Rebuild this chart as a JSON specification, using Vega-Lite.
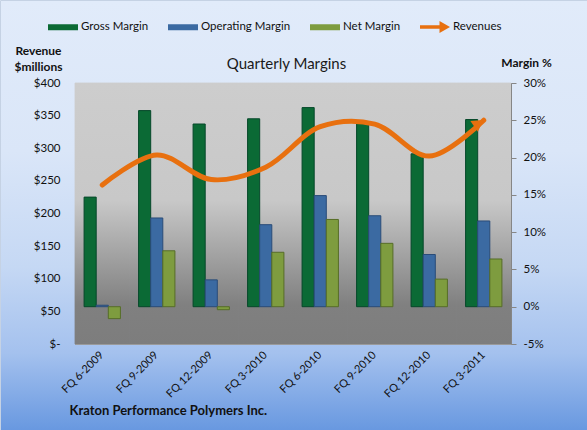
{
  "$schema": "https://vega.github.io/schema/vega-lite/v6.json",
  "width": 587,
  "height": 430,
  "autosize": "none",
  "padding": 0,
  "background": "#ffffff",
  "title": {
    "text": "Quarterly Margins",
    "anchor": "middle",
    "frame": "group",
    "offset": 0,
    "baseline": "middle",
    "dy": 79,
    "dx": -7,
    "fontSize": 15,
    "fontWeight": "normal",
    "color": "#1a1a1a",
    "font": "Lato"
  },
  "config": {
    "font": "Lato",
    "view": {
      "fill": {
        "gradient": "linear", "x1": 0, "y1": 0, "x2": 0, "y2": 1,
        "stops": [
          {"offset": 0, "color": "#e1ebfa"},
          {"offset": 0.35, "color": "#dae6f8"},
          {"offset": 0.62, "color": "#c5d8f4"},
          {"offset": 0.82, "color": "#a4c1ee"},
          {"offset": 1, "color": "#6898e0"}
        ]
      },
      "stroke": "#c5d2e4",
      "strokeWidth": 1
    },
    "axis": {
      "labelFont": "Lato",
      "labelColor": "#111111",
      "titleFont": "Lato",
      "titleColor": "#111111",
      "labelFontSize": 11.5
    }
  },
  "datasets": {
    "revenue": [
      {"quarter": "FQ 6-2009", "revenue": 243.7},
      {"quarter": "FQ 9-2009", "revenue": 289.7},
      {"quarter": "FQ 12-2009", "revenue": 252},
      {"quarter": "FQ 3-2010", "revenue": 271},
      {"quarter": "FQ 6-2010", "revenue": 333},
      {"quarter": "FQ 9-2010", "revenue": 337},
      {"quarter": "FQ 12-2010", "revenue": 288},
      {"quarter": "FQ 3-2011", "revenue": 343}
    ],
    "margins": [
      {"quarter": "FQ 6-2009", "measure": "Gross Margin", "value": 14.7},
      {"quarter": "FQ 6-2009", "measure": "Operating Margin", "value": 0.2},
      {"quarter": "FQ 6-2009", "measure": "Net Margin", "value": -1.6},
      {"quarter": "FQ 9-2009", "measure": "Gross Margin", "value": 26.3},
      {"quarter": "FQ 9-2009", "measure": "Operating Margin", "value": 11.9},
      {"quarter": "FQ 9-2009", "measure": "Net Margin", "value": 7.5},
      {"quarter": "FQ 12-2009", "measure": "Gross Margin", "value": 24.5},
      {"quarter": "FQ 12-2009", "measure": "Operating Margin", "value": 3.6},
      {"quarter": "FQ 12-2009", "measure": "Net Margin", "value": -0.4},
      {"quarter": "FQ 3-2010", "measure": "Gross Margin", "value": 25.2},
      {"quarter": "FQ 3-2010", "measure": "Operating Margin", "value": 11.0},
      {"quarter": "FQ 3-2010", "measure": "Net Margin", "value": 7.3},
      {"quarter": "FQ 6-2010", "measure": "Gross Margin", "value": 26.7},
      {"quarter": "FQ 6-2010", "measure": "Operating Margin", "value": 14.9},
      {"quarter": "FQ 6-2010", "measure": "Net Margin", "value": 11.7},
      {"quarter": "FQ 9-2010", "measure": "Gross Margin", "value": 24.6},
      {"quarter": "FQ 9-2010", "measure": "Operating Margin", "value": 12.2},
      {"quarter": "FQ 9-2010", "measure": "Net Margin", "value": 8.5},
      {"quarter": "FQ 12-2010", "measure": "Gross Margin", "value": 20.5},
      {"quarter": "FQ 12-2010", "measure": "Operating Margin", "value": 7.0},
      {"quarter": "FQ 12-2010", "measure": "Net Margin", "value": 3.7},
      {"quarter": "FQ 3-2011", "measure": "Gross Margin", "value": 25.1},
      {"quarter": "FQ 3-2011", "measure": "Operating Margin", "value": 11.5},
      {"quarter": "FQ 3-2011", "measure": "Net Margin", "value": 6.4}
    ]
  },
  "layer": [
    {
      "layer": [
        {
          "data": {"name": "revenue"},
          "mark": {
            "type": "rect",
            "strokeWidth": 0.8,
            "fill": {
              "gradient": "linear", "x1": 0, "y1": 0, "x2": 0, "y2": 1,
              "stops": [
                {"offset": 0, "color": "#cdcdcd"},
                {"offset": 0.45, "color": "#c8c8c8"},
                {"offset": 0.85, "color": "#808080"},
                {"offset": 1, "color": "#7d7d7d"}
              ]
            },
            "stroke": {
              "gradient": "linear", "x1": 0, "y1": 0, "x2": 0, "y2": 1,
              "stops": [
                {"offset": 0, "color": "#cdcdcd"},
                {"offset": 0.45, "color": "#c8c8c8"},
                {"offset": 0.85, "color": "#808080"},
                {"offset": 1, "color": "#7d7d7d"}
              ]
            }
          },
          "encoding": {
            "x": {
              "field": "quarter",
              "type": "nominal",
              "scale": {
                "domain": ["FQ 6-2009", "FQ 9-2009", "FQ 12-2009", "FQ 3-2010", "FQ 6-2010", "FQ 9-2010", "FQ 12-2010", "FQ 3-2011"],
                "range": [75, 511],
                "paddingInner": 0,
                "paddingOuter": 0
              },
              "axis": {
                "orient": "bottom",
                "offset": -86,
                "labelAngle": -45,
                "labelAlign": "right",
                "labelBaseline": "middle",
                "labelPadding": 9,
                "labelFontSize": 11,
                "ticks": false,
                "domain": true,
                "domainColor": "#9a9a9a",
                "grid": false,
                "title": "Kraton Performance Polymers Inc.",
                "titleFontSize": 13,
                "titleFontWeight": "bold",
                "titleAlign": "left",
                "titleBaseline": "middle",
                "titleAngle": 0,
                "titleX": 69,
                "titleY": 66,
                "zindex": 2
              }
            },
            "y": {
              "datum": 30,
              "type": "quantitative",
              "scale": {"domain": [-5, 30], "range": [344, 83], "nice": false, "zero": false},
              "axis": {
                "orient": "right",
                "offset": -76,
                "values": [-5, 0, 5, 10, 15, 20, 25, 30],
                "labelExpr": "datum.value + '%'",
                "grid": false,
                "ticks": true,
                "tickSize": 5,
                "tickColor": "#868686",
                "domain": true,
                "domainColor": "#868686",
                "labelPadding": 7,
                "title": "Margin %",
                "titleFontSize": 12,
                "titleFontWeight": "bold",
                "titleAngle": 0,
                "titleAlign": "center",
                "titleBaseline": "middle",
                "titleX": 15,
                "titleY": 62,
                "zindex": 2
              }
            },
            "y2": {"datum": -5}
          }
        },
        {
          "data": {"name": "margins"},
          "mark": {"type": "bar", "strokeWidth": 1},
          "encoding": {
            "x": {"field": "quarter", "type": "nominal"},
            "xOffset": {
              "field": "measure",
              "type": "nominal",
              "sort": ["Gross Margin", "Operating Margin", "Net Margin"],
              "scale": {"paddingInner": 0, "paddingOuter": 0.75}
            },
            "y": {"field": "value", "type": "quantitative"},
            "y2": {"datum": 0},
            "color": {
              "field": "measure",
              "type": "nominal",
              "scale": {
                "domain": ["Gross Margin", "Operating Margin", "Net Margin", "Revenues"],
                "range": ["#0b6a35", "#3b6aa2", "#7e9c3f", "#e8700f"]
              },
              "legend": {
                "title": null,
                "orient": "none",
                "legendX": 48,
                "legendY": 12,
                "direction": "horizontal",
                "padding": 0,
                "columnPadding": 19,
                "symbolSize": 900,
                "symbolType": "M-1,-0.2H1V0.2H-1Z",
                "labelFontSize": 11.5,
                "labelColor": "#111111",
                "labelOffset": 3,
                "encode": {
                  "symbols": {
                    "update": {
                      "shape": {"signal": "datum.value === 'Revenues' ? 'M-1,-0.12H0.3V-0.4L1,0L0.3,0.4V0.12H-1Z' : 'M-1,-0.2H1V0.2H-1Z'"},
                      "fill": {"scale": "color", "field": "value"},
                      "stroke": {"value": "transparent"},
                      "strokeWidth": {"value": 0},
                      "opacity": {"value": 1}
                    }
                  }
                }
              }
            },
            "stroke": {
              "field": "measure",
              "type": "nominal",
              "scale": {
                "domain": ["Gross Margin", "Operating Margin", "Net Margin"],
                "range": ["#06482a", "#2a4c78", "#566d27"]
              },
              "legend": null
            }
          }
        }
      ]
    },
    {
      "data": {"name": "revenue"},
      "layer": [
        {
          "mark": {"type": "line", "interpolate": "catmull-rom", "strokeWidth": 5, "strokeCap": "round"},
          "encoding": {
            "x": {"field": "quarter", "type": "nominal"},
            "y": {
              "field": "revenue",
              "type": "quantitative",
              "scale": {"domain": [0, 400], "range": [344, 83], "nice": false, "zero": false},
              "axis": {
                "orient": "left",
                "offset": -75,
                "values": [0, 50, 100, 150, 200, 250, 300, 350, 400],
                "labelExpr": "datum.value === 0 ? '$-' : '$' + datum.value",
                "ticks": false,
                "domain": false,
                "grid": true,
                "gridColor": "#808080",
                "gridWidth": 1,
                "labelPadding": 15,
                "title": ["Revenue", "$millions"],
                "titleFontSize": 12,
                "titleFontWeight": "bold",
                "titleAngle": 0,
                "titleAlign": "center",
                "titleBaseline": "top",
                "titleLineHeight": 16,
                "titleX": -37,
                "titleY": 45
              }
            },
            "color": {"datum": "Revenues"}
          }
        },
        {
          "transform": [{"filter": "datum.quarter === 'FQ 3-2011'"}],
          "mark": {"type": "point", "shape": "triangle-right", "angle": -35, "filled": true, "size": 170, "opacity": 1, "xOffset": -5, "yOffset": 3},
          "encoding": {
            "x": {"field": "quarter", "type": "nominal"},
            "y": {"field": "revenue", "type": "quantitative"},
            "color": {"datum": "Revenues"}
          }
        }
      ]
    }
  ],
  "resolve": {"scale": {"y": "independent"}, "axis": {"y": "independent"}}
}
